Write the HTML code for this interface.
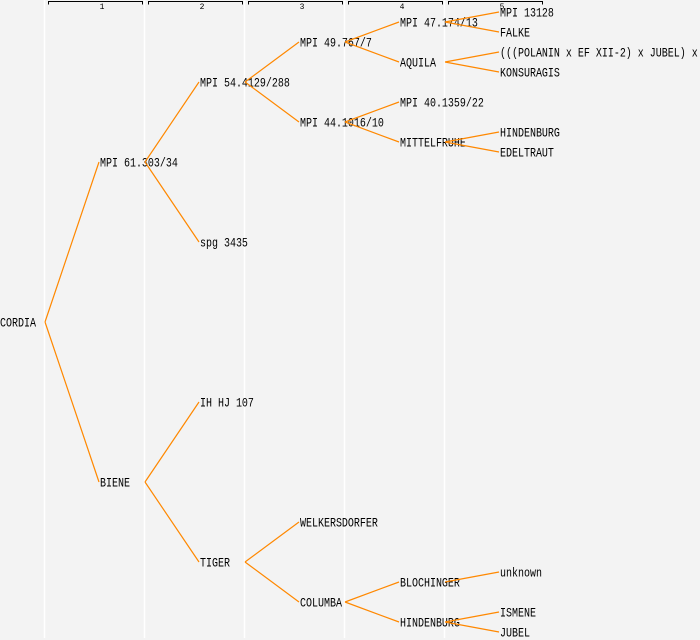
<!DOCTYPE html>
<html><head><meta charset="utf-8"><style>
html,body{margin:0;padding:0;background:#f3f3f3;}
svg{display:block;}
text{font-family:"Liberation Mono",monospace;font-size:10px;fill:#000;}
.h{font-size:8px;text-anchor:middle;}
</style></head><body>
<svg width="700" height="640" viewBox="0 0 700 640" xmlns="http://www.w3.org/2000/svg">
<rect width="700" height="640" fill="#f3f3f3"/>
<g stroke="#ffffff" stroke-width="1.5">
<line x1="44.5" y1="0" x2="44.5" y2="638"/>
<line x1="144.5" y1="0" x2="144.5" y2="638"/>
<line x1="244.5" y1="0" x2="244.5" y2="638"/>
<line x1="344.5" y1="0" x2="344.5" y2="638"/>
<line x1="444.5" y1="0" x2="444.5" y2="638"/>
</g>
<g stroke="#000" stroke-width="1" fill="none">
<path d="M48.5 4.5V1.5H142.5V4.5"/>
<path d="M148.5 4.5V1.5H242.5V4.5"/>
<path d="M248.5 4.5V1.5H342.5V4.5"/>
<path d="M348.5 4.5V1.5H442.5V4.5"/>
<path d="M448.5 4.5V1.5H542.5V4.5"/>
</g>
<text class="h" x="102" y="9">1</text>
<text class="h" x="202" y="9">2</text>
<text class="h" x="302" y="9">3</text>
<text class="h" x="402" y="9">4</text>
<text class="h" x="502" y="9">5</text>

<g>
<text transform="translate(0,326.5) scale(1,1.3)">CORDIA</text>
<text transform="translate(100,166.5) scale(1,1.3)">MPI 61.303/34</text>
<text transform="translate(100,486.5) scale(1,1.3)">BIENE</text>
<text transform="translate(200,86.5) scale(1,1.3)">MPI 54.4129/288</text>
<text transform="translate(200,246.5) scale(1,1.3)">spg 3435</text>
<text transform="translate(200,406.5) scale(1,1.3)">IH HJ 107</text>
<text transform="translate(200,566.5) scale(1,1.3)">TIGER</text>
<text transform="translate(300,46.5) scale(1,1.3)">MPI 49.767/7</text>
<text transform="translate(300,126.5) scale(1,1.3)">MPI 44.1016/10</text>
<text transform="translate(300,526.5) scale(1,1.3)">WELKERSDORFER</text>
<text transform="translate(300,606.5) scale(1,1.3)">COLUMBA</text>
<text transform="translate(400,26.5) scale(1,1.3)">MPI 47.174/13</text>
<text transform="translate(400,66.5) scale(1,1.3)">AQUILA</text>
<text transform="translate(400,106.5) scale(1,1.3)">MPI 40.1359/22</text>
<text transform="translate(400,146.5) scale(1,1.3)">MITTELFRUHE</text>
<text transform="translate(400,586.5) scale(1,1.3)">BLOCHINGER</text>
<text transform="translate(400,626.5) scale(1,1.3)">HINDENBURG</text>
<text transform="translate(500,16.5) scale(1,1.3)">MPI 13128</text>
<text transform="translate(500,36.5) scale(1,1.3)">FALKE</text>
<text transform="translate(500,56.5) scale(1,1.3)">(((POLANIN x EF XII-2) x JUBEL) x</text>
<text transform="translate(500,76.5) scale(1,1.3)">KONSURAGIS</text>
<text transform="translate(500,136.5) scale(1,1.3)">HINDENBURG</text>
<text transform="translate(500,156.5) scale(1,1.3)">EDELTRAUT</text>
<text transform="translate(500,576.5) scale(1,1.3)">unknown</text>
<text transform="translate(500,616.5) scale(1,1.3)">ISMENE</text>
<text transform="translate(500,636.5) scale(1,1.3)">JUBEL</text>
</g>

<g stroke="#ff8800" stroke-width="1.2" fill="none">
<path d="M45 322L99 162M45 322L99 482"/>
<path d="M145 162L199 82M145 162L199 242"/>
<path d="M145 482L199 402M145 482L199 562"/>
<path d="M245 82L299 42M245 82L299 122"/>
<path d="M245 562L299 522M245 562L299 602"/>
<path d="M345 42L399 22M345 42L399 62"/>
<path d="M345 122L399 102M345 122L399 142"/>
<path d="M345 602L399 582M345 602L399 622"/>
<path d="M445 22L499 12M445 22L499 32"/>
<path d="M445 62L499 52M445 62L499 72"/>
<path d="M445 142L499 132M445 142L499 152"/>
<path d="M445 582L499 572"/>
<path d="M445 622L499 612M445 622L499 632"/>
</g>
</svg>
</body></html>
